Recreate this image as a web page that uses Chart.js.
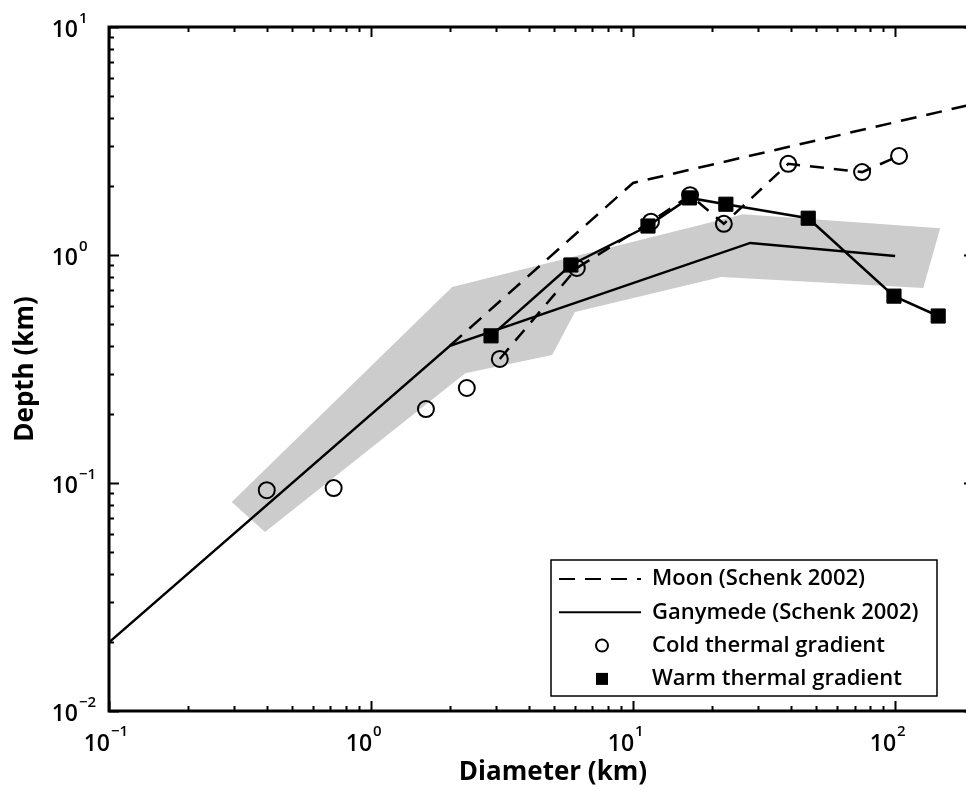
<!DOCTYPE html>
<html>
<head>
<meta charset="utf-8">
<script src="https://cdn.jsdelivr.net/npm/chart.js@4.4.1/dist/chart.umd.min.js"></script>
<style>
    html, body { margin: 0; padding: 0; background: #fff; overflow: hidden; }
    canvas { display: block; }
</style>
</head>
<body>
<canvas id="grafico" width="980" height="791"></canvas>
<script>
// Moon (Schenk 2002) - dashed line
var moonDiameter = [2.0, 10.0, 200];
var moonDepth = [0.40, 2.07, 4.6];

// Ganymede (Schenk 2002) - solid line
var ganymedeDiameter = [0.1, 2.0, 28, 100];
var ganymedeDepth = [0.02, 0.40, 1.13, 0.99];

// Cold thermal gradient - open circles
var coldDiameter = [0.40, 0.72, 1.62, 2.32, 3.10, 6.1, 11.7, 16.5, 22.2, 39.1, 74.8, 103.5];
var coldDepth = [0.093, 0.095, 0.211, 0.261, 0.35, 0.877, 1.40, 1.83, 1.37, 2.51, 2.31, 2.72];

// Warm thermal gradient - filled squares
var warmDiameter = [2.87, 5.79, 11.4, 16.4, 22.6, 46.6, 99, 146];
var warmDepth = [0.442, 0.904, 1.34, 1.78, 1.67, 1.45, 0.66, 0.54];

// gray range band (outline)
var bandDiameter = [0.294, 2.04, 26.3, 148.6, 128, 21.7, 6.0, 4.91, 2.29, 0.394, 0.294];
var bandDepth = [0.0826, 0.724, 1.51, 1.31, 0.716, 0.80, 0.562, 0.364, 0.303, 0.061, 0.0826];

// tick labels (10^n)
var xTickValues = [0.1, 1, 10, 100];
var xTickExponents = ['\u22121', '0', '1', '2'];
var yTickValues = [0.01, 0.1, 1, 10];
var yTickExponents = ['\u22122', '\u22121', '0', '1'];

var FONTE = '"Open Sans", "Noto Sans", sans-serif';

function pontos(xs, ys) {
    var lista = [];
    for (var i = 0; i < xs.length; i++) {
        lista.push({ x: xs[i], y: ys[i] });
    }
    return lista;
}

// frame, inward ticks, tick labels and axis titles
var molduraPlugin = {
    id: 'moldura',
    afterDatasetsDraw: function (chart) {
        var ctx = chart.ctx;
        var area = chart.chartArea;
        var sx = chart.scales.x;
        var sy = chart.scales.y;

        ctx.save();
        ctx.strokeStyle = '#000';
        ctx.lineWidth = 3;
        ctx.strokeRect(area.left, area.top, area.right - area.left, area.bottom - area.top);

        ctx.lineWidth = 2;
        ctx.beginPath();
        xTickValues.forEach(function (d) {
            for (var m = 1; m <= 9; m++) {
                var v = d * m;
                if (v < sx.min || v > sx.max) continue;
                var px = Math.round(sx.getPixelForValue(v)) + 0.5;
                var len = m == 1 ? 10 : 5;
                ctx.moveTo(px, area.bottom);
                ctx.lineTo(px, area.bottom - len);
                ctx.moveTo(px, area.top);
                ctx.lineTo(px, area.top + len);
            }
        });
        yTickValues.forEach(function (d) {
            for (var m = 1; m <= 9; m++) {
                var v = d * m;
                if (v < sy.min || v > sy.max) continue;
                var py = Math.round(sy.getPixelForValue(v)) + 0.5;
                var len = m == 1 ? 10 : 5;
                ctx.moveTo(area.left, py);
                ctx.lineTo(area.left + len, py);
                ctx.moveTo(area.right, py);
                ctx.lineTo(area.right - len, py);
            }
        });
        ctx.stroke();

        ctx.fillStyle = '#000';
        ctx.textBaseline = 'middle';
        // x tick labels
        for (var i = 0; i < xTickValues.length; i++) {
            var px = sx.getPixelForValue(xTickValues[i]);
            ctx.font = '600 23px ' + FONTE;
            ctx.textAlign = 'right';
            ctx.fillText('10', px + 1, area.bottom + 33);
            ctx.font = '600 15px ' + FONTE;
            ctx.textAlign = 'left';
            ctx.fillText(xTickExponents[i], px + 2, area.bottom + 21);
        }
        // y tick labels
        for (var j = 0; j < yTickValues.length; j++) {
            var py = sy.getPixelForValue(yTickValues[j]);
            ctx.font = '600 23px ' + FONTE;
            ctx.textAlign = 'right';
            ctx.fillText('10', 78, py + 3);
            ctx.font = '600 15px ' + FONTE;
            ctx.textAlign = 'left';
            ctx.fillText(yTickExponents[j], 79, py - 8);
        }

        // axis titles
        ctx.font = 'bold 26px ' + FONTE;
        ctx.textAlign = 'center';
        ctx.fillText('Diameter (km)', 553, area.bottom + 62);
        ctx.save();
        ctx.translate(26, (area.top + area.bottom) / 2);
        ctx.rotate(-Math.PI / 2);
        ctx.fillText('Depth (km)', 0, 0);
        ctx.restore();

        ctx.restore();
    }
};

// legend box in the lower right corner of the axes
var legendaPlugin = {
    id: 'legenda',
    afterDraw: function (chart) {
        var ctx = chart.ctx;
        var area = chart.chartArea;
        var caixa = { left: 551, top: 560, right: 937, bottom: 696 };
        var itens = chart.data.datasets.filter(function (ds) { return ds.legenda; });

        ctx.save();
        ctx.fillStyle = '#fff';
        ctx.fillRect(caixa.left, caixa.top, caixa.right - caixa.left, caixa.bottom - caixa.top);
        ctx.strokeStyle = '#000';
        ctx.lineWidth = 1.5;
        ctx.strokeRect(caixa.left, caixa.top, caixa.right - caixa.left, caixa.bottom - caixa.top);

        var passo = 33.3;
        itens.forEach(function (ds, k) {
            var y = caixa.top + 19 + k * passo;
            ctx.strokeStyle = '#000';
            ctx.fillStyle = '#000';
            if (ds.legenda == 'linha') {
                ctx.lineWidth = 2;
                ctx.setLineDash(ds.borderDash || []);
                ctx.beginPath();
                ctx.moveTo(caixa.left + 8, y);
                ctx.lineTo(caixa.left + 90, y);
                ctx.stroke();
                ctx.setLineDash([]);
            } else if (ds.pointStyle == 'circle') {
                ctx.lineWidth = 2;
                ctx.beginPath();
                ctx.arc(caixa.left + 51, y, 6, 0, Math.PI * 2);
                ctx.stroke();
            } else {
                ctx.fillRect(caixa.left + 45, y - 6, 12, 12);
            }
            ctx.font = '600 22px ' + FONTE;
            ctx.textAlign = 'left';
            ctx.textBaseline = 'middle';
            ctx.fillText(ds.label, caixa.left + 101, y);
        });
        ctx.restore();
    }
};

var dados = {
    datasets: [
        {
            label: 'Warm thermal gradient',
            legenda: 'marcador',
            data: pontos(warmDiameter, warmDepth),
            showLine: true,
            borderColor: '#000',
            borderWidth: 2.5,
            pointStyle: 'rect',
            pointRadius: 10,
            pointBackgroundColor: '#000',
            pointBorderColor: '#000',
            pointBorderWidth: 1,
            order: 1
        },
        {
            label: 'Cold thermal gradient',
            legenda: 'marcador',
            data: pontos(coldDiameter, coldDepth),
            showLine: false,
            pointStyle: 'circle',
            pointRadius: 8,
            pointBackgroundColor: 'rgba(0,0,0,0)',
            pointBorderColor: '#000',
            pointBorderWidth: 2,
            order: 2
        },
        {
            label: 'cold line',
            data: pontos(coldDiameter.slice(4), coldDepth.slice(4)),
            borderColor: '#000',
            borderWidth: 2.5,
            borderDash: [14, 10],
            pointRadius: 0,
            order: 3
        },
        {
            label: 'Ganymede (Schenk 2002)',
            legenda: 'linha',
            data: pontos(ganymedeDiameter, ganymedeDepth),
            borderColor: '#000',
            borderWidth: 2.5,
            pointRadius: 0,
            order: 4
        },
        {
            label: 'Moon (Schenk 2002)',
            legenda: 'linha',
            data: pontos(moonDiameter, moonDepth),
            borderColor: '#000',
            borderWidth: 2.5,
            borderDash: [16, 10],
            pointRadius: 0,
            order: 5
        },
        {
            label: 'range',
            data: pontos(bandDiameter, bandDepth),
            borderWidth: 0,
            borderColor: 'rgba(0,0,0,0)',
            backgroundColor: 'rgb(204, 204, 204)',
            fill: 'shape',
            pointRadius: 0,
            order: 6
        }
    ]
};

// legend order: Moon, Ganymede, Cold, Warm
dados.datasets.sort(function (a, b) { return b.order - a.order; });
dados.datasets.forEach(function (ds) { ds.tension = 0; });

var config = {
    type: 'line',
    data: dados,
    options: {
        responsive: false,
        animation: false,
        devicePixelRatio: 1,
        layout: { autoPadding: false, padding: { left: 109, right: 6, top: 27, bottom: 80 } },
        scales: {
            x: { type: 'logarithmic', min: 0.1, max: 200, bounds: 'data', display: false },
            y: { type: 'logarithmic', min: 0.01, max: 10, bounds: 'data', display: false }
        },
        plugins: {
            legend: { display: false },
            tooltip: { enabled: false }
        }
    },
    plugins: [molduraPlugin, legendaPlugin]
};

var myChart = new Chart(document.getElementById('grafico'), config);
</script>
</body>
</html>
